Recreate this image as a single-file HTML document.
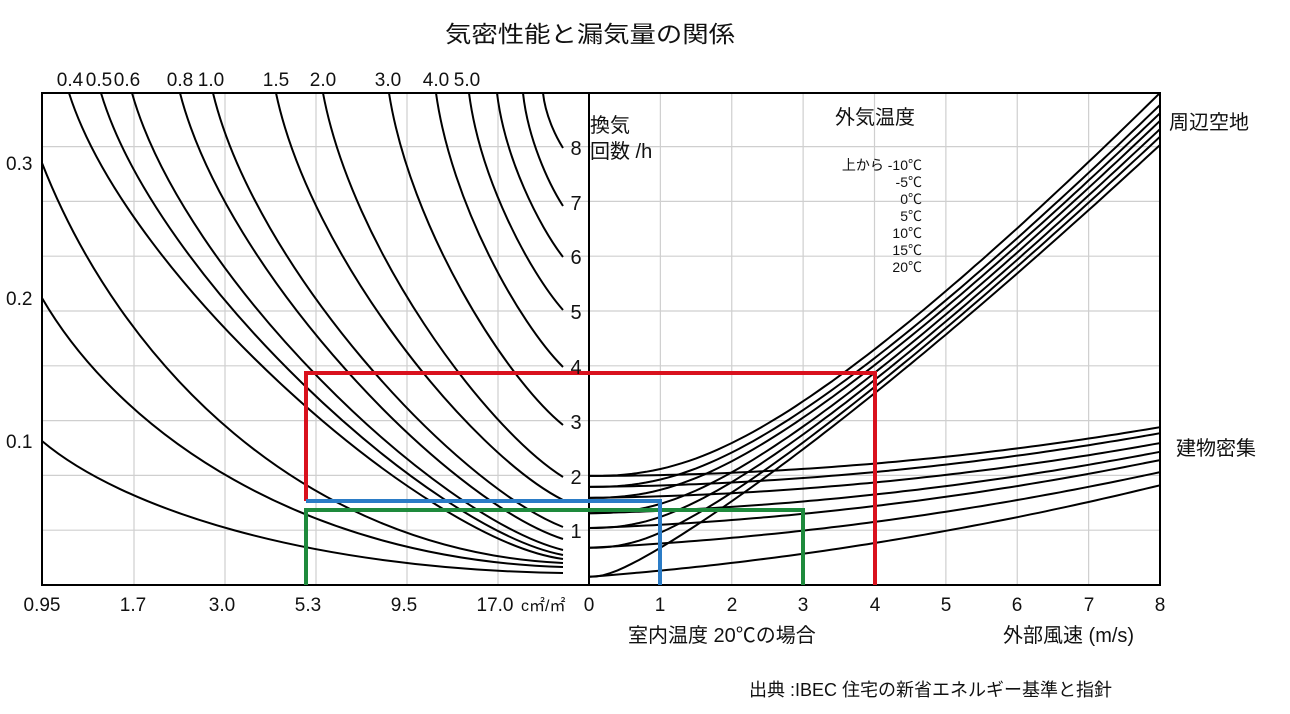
<!DOCTYPE html>
<html><head><meta charset="utf-8"><style>
html,body{margin:0;padding:0;background:#fff;}
svg{display:block;}
text{font-family:"Liberation Sans","Noto Sans CJK JP",sans-serif;fill:#111;}
</style></head><body>
<svg id="s" width="1290" height="714" viewBox="0 0 1290 714" xmlns="http://www.w3.org/2000/svg">
<g id="grid" stroke="#cfcfcf" stroke-width="1.2"></g>
<g id="curves" fill="none" stroke="#000" stroke-width="2"></g>
<rect x="42" y="93" width="1118" height="492" fill="none" stroke="#000" stroke-width="2"/>
<line x1="589" y1="93" x2="589" y2="585" stroke="#000" stroke-width="2"/>
<g fill="none" stroke-width="4">
<polyline points="306,501 306,373 875,373 875,585" stroke="#d9111d"/>
<polyline points="306,585 306,510 803,510 803,585" stroke="#1e8a3c"/>
<polyline points="306,501 660,501 660,585" stroke="#2b7cc6"/>
</g>
<text x="590" y="42" font-size="23" text-anchor="middle" textLength="290" lengthAdjust="spacingAndGlyphs">気密性能と漏気量の関係</text>
<g font-size="19" text-anchor="middle">
<text x="70" y="86">0.4</text><text x="99" y="86">0.5</text><text x="127" y="86">0.6</text>
<text x="180" y="86">0.8</text><text x="211" y="86">1.0</text><text x="276" y="86">1.5</text>
<text x="323" y="86">2.0</text><text x="388" y="86">3.0</text><text x="436" y="86">4.0</text><text x="467" y="86">5.0</text>
<text x="42" y="611">0.95</text><text x="133" y="611">1.7</text><text x="222" y="611">3.0</text>
<text x="308" y="611">5.3</text><text x="404" y="611">9.5</text><text x="495" y="611">17.0</text>
<text x="589" y="611">0</text><text x="660" y="611">1</text><text x="732" y="611">2</text><text x="803" y="611">3</text>
<text x="875" y="611">4</text><text x="946" y="611">5</text><text x="1017" y="611">6</text><text x="1089" y="611">7</text><text x="1160" y="611">8</text>
</g>
<text x="521" y="611" font-size="16">c㎡/㎡</text>
<g font-size="19">
<text x="6" y="170">0.3</text><text x="6" y="305">0.2</text><text x="6" y="448">0.1</text>
</g>
<g font-size="20" text-anchor="middle">
<text x="576" y="155">8</text><text x="576" y="210">7</text><text x="576" y="264">6</text><text x="576" y="319">5</text>
<text x="576" y="374">4</text><text x="576" y="429">3</text><text x="576" y="484">2</text><text x="576" y="538">1</text>
</g>
<text x="590" y="132" font-size="20">換気</text>
<text x="590" y="158" font-size="20">回数 /h</text>
<text x="875" y="124" font-size="20" text-anchor="middle">外気温度</text>
<g font-size="14" text-anchor="end">
<text x="922" y="170">上から -10℃</text><text x="922" y="187">-5℃</text><text x="922" y="204">0℃</text>
<text x="922" y="221">5℃</text><text x="922" y="238">10℃</text><text x="922" y="255">15℃</text><text x="922" y="272">20℃</text>
</g>
<text x="1169" y="129" font-size="20">周辺空地</text>
<text x="1176" y="455" font-size="20">建物密集</text>
<text x="628" y="642" font-size="20">室内温度 20℃の場合</text>
<text x="1003" y="642" font-size="20">外部風速 (m/s)</text>
<text x="749" y="696" font-size="18">出典 :IBEC 住宅の新省エネルギー基準と指針</text>
</svg>
<script>
(function(){
var NS="http://www.w3.org/2000/svg";
var grid=document.getElementById('grid'),cv=document.getElementById('curves');
function ln(x1,y1,x2,y2){var l=document.createElementNS(NS,'line');l.setAttribute('x1',x1);l.setAttribute('y1',y1);l.setAttribute('x2',x2);l.setAttribute('y2',y2);grid.appendChild(l);}
[134,225,316,407,498].forEach(function(x){ln(x,93,x,585);});
for(var k=1;k<8;k++){var x=589+71.375*k;ln(x,93,x,585);}
for(var k=1;k<=8;k++){var y=585-54.8*k;ln(42,y,1160,y);}
function path(d){var p=document.createElementNS(NS,'path');p.setAttribute('d',d);cv.appendChild(p);}
var L=[[543,93,148],[523,93,206],[497,93,257],[469,93,310],[436,93,367],[389,93,425],[323,93,477],
[276,93,500],[213,93,527],[180,93,539],[132,93,550],[101,93,555],[69,93,559]];
var xe=563;
L.forEach(function(c,i){var xs=c[0],ys=c[1],ye=c[2],dx=xe-xs,dy=ye-ys;
var t=i/12; var a=0.38-0.1*t, b=0.22-0.18*t;
path('M'+xs+','+ys+' C'+(xs+0.12*dx)+','+(ys+0.4*dy)+' '+(xe-a*dx)+','+(ye-b*dy)+' '+xe+','+ye);});
[[163,563],[298,567],[441,573]].forEach(function(c){var xs=42,ys=c[0],ye=c[1],dx=xe-xs,dy=ye-ys;
path('M'+xs+','+ys+' C'+(xs+0.15*dx)+','+(ys+0.5*dy)+' '+(xe-0.5*dx)+','+(ye-0.03*dy)+' '+xe+','+ye);});
var S=[1.99,1.79,1.59,1.31,1.04,0.68,0.15];
var E=[8.98,8.76,8.61,8.47,8.32,8.18,8.03];
var LE=[2.88,2.77,2.59,2.43,2.28,2.06,1.82];
function X(w){return 589+71.375*w;} function Y(v){return 585-54.8*v;}
for(var i=0;i<7;i++){
 var s=S[i],w8=Math.sqrt(E[i]*E[i]-s*s),c=w8/Math.pow(8,1.2),d='';
 for(var j=0;j<=80;j++){var x=j/10,w=c*Math.pow(x,1.2),v=Math.sqrt(s*s+w*w);d+=(j?' L':'M')+X(x).toFixed(1)+','+Y(v).toFixed(1);}
 path(d);
 var e=0.0137,f=(LE[i]-s-64*e)/8;d='';
 for(var j=0;j<=80;j++){var x=j/10,v=s+f*x+e*x*x;d+=(j?' L':'M')+X(x).toFixed(1)+','+Y(v).toFixed(1);}
 path(d);
}
})();
</script>
</body></html>
